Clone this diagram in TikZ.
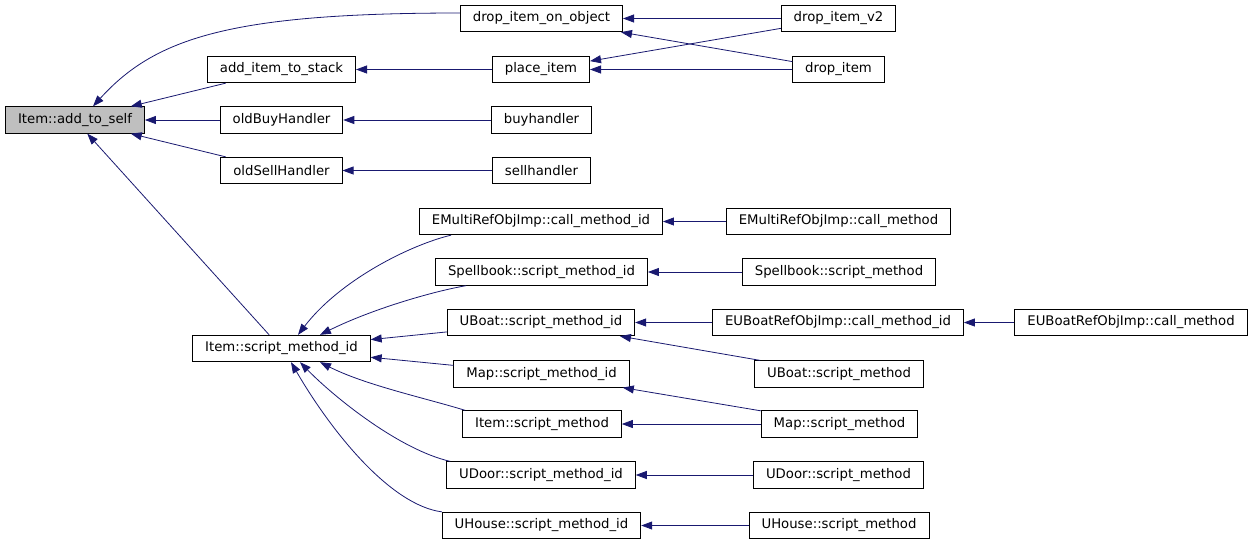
\documentclass[tikz,border=0pt]{standalone}
\usepackage{fontspec}
\setmainfont{DejaVu Sans}
\usetikzlibrary{arrows.meta}
\definecolor{navy}{RGB}{25,25,112}
\definecolor{selfgray}{RGB}{191,191,191}
\begin{document}
\begin{tikzpicture}[x=1pt,y=-1pt,every node/.style={draw,font=\fontsize{13.25}{16}\selectfont,minimum height=26.5pt,inner xsep=12.5pt,inner ysep=0pt,line width=0.8pt},calls/.style={->,draw=navy,line width=0.8pt},>={Triangle[length=11pt,width=8pt]}]
\useasboundingbox (0,0) rectangle (1253,544);
\node[fill=selfgray] (self) at (75,120) {Item::add\_to\_self};
\node (stack) at (281.5,69.5) {add\_item\_to\_stack}; \node (oldbuy) at (281.5,120) {oldBuyHandler}; \node (oldsell) at (281.5,170.5) {oldSellHandler};
\node (dropobj) at (541.5,18.5) {drop\_item\_on\_object}; \node (place) at (541,69.5) {place\_item};
\node (buy) at (541.5,120) {buyhandler}; \node (sell) at (541.5,170.5) {sellhandler};
\node (dropv2) at (838.5,18.5) {drop\_item\_v2}; \node (drop) at (838.5,69.5) {drop\_item};
\node (smid) at (281.5,348.5) {Item::script\_method\_id};
\node (emid) at (541,221.5) {EMultiRefObjImp::call\_method\_id}; \node (emcall) at (838.5,221.5) {EMultiRefObjImp::call\_method};
\node (spid) at (541.5,272) {Spellbook::script\_method\_id}; \node (spsm) at (839,272) {Spellbook::script\_method};
\node (ubid) at (541,322.5) {UBoat::script\_method\_id}; \node (eubid) at (838,322.5) {EUBoatRefObjImp::call\_method\_id};
\node (eubcall) at (1131,322.5) {EUBoatRefObjImp::call\_method};
\node (mapid) at (541.5,374) {Map::script\_method\_id}; \node (ubsm) at (839,374) {UBoat::script\_method};
\node (ism) at (542,424) {Item::script\_method}; \node (mapsm) at (839.5,424) {Map::script\_method};
\node (udid) at (541,475) {UDoor::script\_method\_id}; \node (udsm) at (838.5,475) {UDoor::script\_method};
\node (uhid) at (541.5,525.5) {UHouse::script\_method\_id}; \node (uhsm) at (839,525.5) {UHouse::script\_method};
\draw[calls] ([yshift=5.5pt]dropobj.west) .. controls (230,13) and (155,38) .. ([xshift=18pt]self.north);
\draw[calls] (stack) -- (self);
\draw[calls] (oldbuy) -- (self);
\draw[calls] (oldsell) -- (self);
\draw[calls] (smid) -- (self);
\draw[calls] (place) -- (stack);
\draw[calls] (buy) -- (oldbuy);
\draw[calls] (sell) -- (oldsell);
\draw[calls] (dropv2) -- (dropobj);
\draw[calls] (drop) -- (dropobj);
\draw[calls] (dropv2) -- (place);
\draw[calls] (drop) -- (place);
\draw[calls] ([xshift=32pt]emid.south west) .. controls (410,245) and (340,280) .. ([xshift=16.5pt]smid.north);
\draw[calls] ([xshift=31pt]spid.south west) .. controls (430,292) and (370,310) .. ([xshift=38.5pt]smid.north);
\draw[calls] (ubid) -- (smid);
\draw[calls] (mapid) -- (smid);
\draw[calls] ([xshift=3pt]ism.north west) .. controls (425,398) and (365,385) .. ([xshift=38.5pt]smid.south);
\draw[calls] ([xshift=4pt]udid.north west) .. controls (400,450) and (335,398) .. ([xshift=18.5pt]smid.south);
\draw[calls] (uhid.north west) .. controls (390,505) and (331,431) .. ([xshift=9.5pt]smid.south);
\draw[calls] (emcall) -- (emid);
\draw[calls] (spsm) -- (spid);
\draw[calls] (eubid) -- (ubid);
\draw[calls] (eubcall) -- (eubid);
\draw[calls] (ubsm) -- (ubid);
\draw[calls] (mapsm) -- (mapid);
\draw[calls] (mapsm) -- (ism);
\draw[calls] (udsm) -- (udid);
\draw[calls] (uhsm) -- (uhid);
\end{tikzpicture}
\end{document}
